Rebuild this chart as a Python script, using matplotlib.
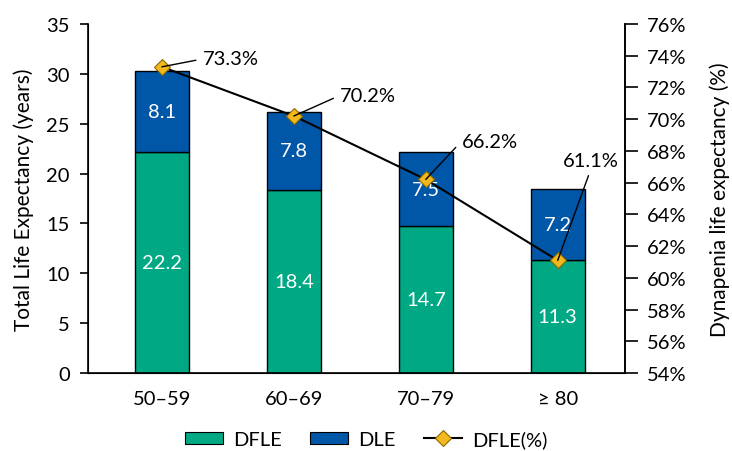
import matplotlib
matplotlib.use("Agg")
import matplotlib.pyplot as plt
from matplotlib.lines import Line2D
from matplotlib.patches import Patch

plt.rcParams['font.family'] = ['Lato', 'DejaVu Sans']

categories = ['50–59', '60–69', '70–79', '≥ 80']
dfle = [22.2, 18.4, 14.7, 11.3]
dle = [8.1, 7.8, 7.5, 7.2]
dfle_pct = [73.3, 70.2, 66.2, 61.1]
pct_labels = ['73.3%', '70.2%', '66.2%', '61.1%']
# label text anchor positions (x in category units, y in percent)
label_pos = [(0.31, 73.8), (1.35, 71.5), (2.27, 68.6), (3.04, 67.4)]

green = '#00A884'
blue = '#0057A8'
gold = '#F2B81E'
fs = 14.5

fig = plt.figure(figsize=(7.32, 4.52), dpi=100)
ax = fig.add_axes([88/732, 1-374/452, (625-88)/732, (374-25)/452])
x = list(range(len(categories)))
w = 0.41
ax.bar(x, dfle, w, color=green, edgecolor='black', linewidth=1.0, zorder=2)
ax.bar(x, dle, w, bottom=dfle, color=blue, edgecolor='black', linewidth=1.0, zorder=2)
for i in x:
    ax.text(i, dfle[i]/2, f'{dfle[i]:.1f}', color='white', ha='center', va='center', fontsize=fs, zorder=3)
    ax.text(i, dfle[i] + dle[i]/2, f'{dle[i]:.1f}', color='white', ha='center', va='center', fontsize=fs, zorder=3)

ax.set_xlim(-0.56, 3.51)
ax.set_ylim(0, 35)
ax.set_yticks(range(0, 36, 5))
ax.set_xticks(x)
ax.set_xticklabels(categories)
ax.tick_params(axis='x', length=0, pad=12, labelsize=fs)
ax.tick_params(axis='y', direction='out', length=6, width=1.2, labelsize=fs, pad=7)
ax.spines['top'].set_visible(False)
for s in ['left', 'bottom', 'right']:
    ax.spines[s].set_linewidth(1.2)
ax.set_ylabel('Total Life Expectancy (years)', fontsize=15)
ax.yaxis.set_label_coords((34-88)/537, 0.5)

ax2 = ax.twinx()
ax2.set_ylim(54, 76)
ax2.set_yticks(range(54, 77, 2))
ax2.set_yticklabels([f'{v}%' for v in range(54, 77, 2)])
ax2.tick_params(axis='y', direction='out', length=9.5, width=1.2, labelsize=fs, pad=6)
ax2.spines['top'].set_visible(False)
ax2.spines['right'].set_linewidth(1.2)
ax2.set_ylabel('Dynapenia life expectancy (%)', fontsize=15)
ax2.yaxis.set_label_coords((709-88)/537, 0.5)
ax2.plot(x, dfle_pct, color='black', linewidth=1.5, marker='D', markersize=8,
         markerfacecolor=gold, markeredgecolor='#8a6a00', markeredgewidth=0.8, zorder=5)
for i in x:
    tx, ty = label_pos[i]
    relpos = (0.5, 0) if i == 3 else (0, 0.5)
    ax2.annotate(pct_labels[i], xy=(i, dfle_pct[i]), xytext=(tx, ty), fontsize=fs,
                 ha='left', va='center',
                 arrowprops=dict(arrowstyle='-', color='black', lw=1.0, relpos=relpos,
                                 shrinkA=3, shrinkB=0), zorder=6)

handles = [Patch(facecolor=green, edgecolor='black', linewidth=0.8),
           Patch(facecolor=blue, edgecolor='black', linewidth=0.8),
           Line2D([0], [0], color='black', lw=1.5, marker='D', markersize=8,
                  markerfacecolor=gold, markeredgecolor='#8a6a00', markeredgewidth=0.8)]
fig.legend(handles, ['DFLE', 'DLE', 'DFLE(%)'], loc='center', bbox_to_anchor=(0.50, 1-440/452),
           ncol=3, frameon=False, fontsize=fs, handlelength=1.9, handleheight=0.55,
           columnspacing=1.4, handletextpad=0.5)

fig.savefig('out.png', dpi=100)
